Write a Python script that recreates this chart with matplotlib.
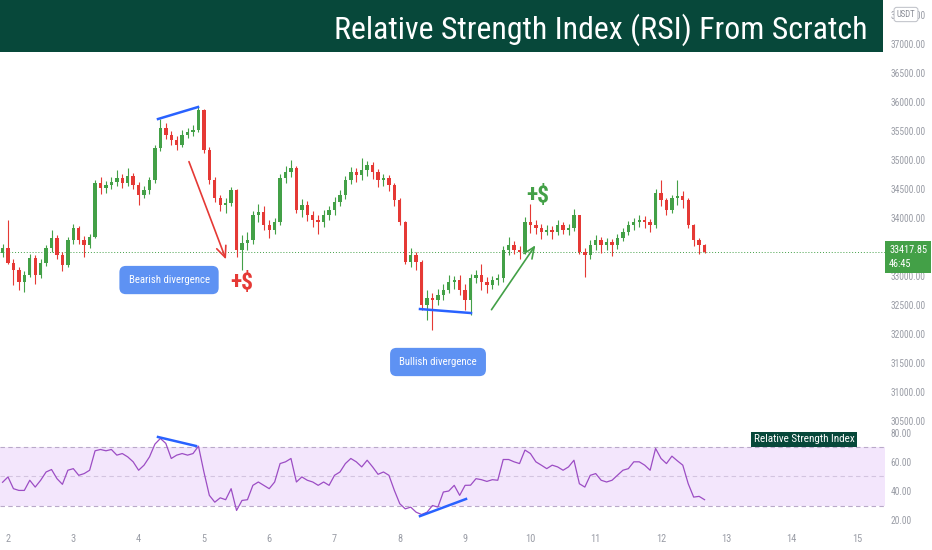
import numpy as np
import matplotlib.pyplot as plt
import matplotlib.font_manager as fm
from matplotlib.patches import Rectangle

# pick the narrowest sans family that is installed
installed = {f.name for f in fm.fontManager.ttflist}
wanted = ['Liberation Sans Narrow', 'Roboto Condensed', 'Open Sans Condensed',
          'Noto Sans Condensed', 'DejaVu Sans Condensed', 'DejaVu Sans']
families = [n for n in wanted if n in installed] or ['DejaVu Sans']
if families[-1] != 'DejaVu Sans':
    families.append('DejaVu Sans')
plt.rcParams['font.family'] = families
plt.rcParams['font.stretch'] = 'condensed'

# 2-hour candles, BTC/USDT, days of month on x
start_day = 1.9167
step = 1 / 12

closes = [33480, 33230, 33100, 32900, 33020, 33310, 33020, 33220, 33480, 33650,
          33360, 33190, 33620, 33830, 33620, 33530, 33670, 34600, 34520, 34570,
          34620, 34690, 34600, 34720, 34570, 34400, 34480, 34650, 35200, 35550,
          35430, 35340, 35260, 35430, 35480, 35520, 35860, 35170, 34650, 34340,
          34220, 34260, 34480, 33450, 33570, 33620, 34050, 34100, 33880, 33790,
          33930, 34690, 34790, 34860, 34140, 34220, 34050, 33970, 33930, 34050,
          34140, 34280, 34400, 34660, 34790, 34740, 34830, 34910, 34790, 34660,
          34690, 34570, 34310, 33930, 33240, 33360, 33240, 32500, 32620, 32590,
          32670, 32760, 32900, 32930, 32760, 32590, 32970, 33020, 32900, 32850,
          32930, 32970, 33450, 33530, 33450, 33410, 33930, 33880, 33830, 33760,
          33790, 33760, 33880, 33790, 33830, 34050, 33410, 33360, 33530, 33620,
          33530, 33590, 33530, 33650, 33760, 33880, 33930, 33970, 33930, 33880,
          34430, 34310, 34140, 34340, 34380, 34310, 33880, 33620, 33530, 33417.85]

highs = [33560, 33960, 33300, 33150, 33080, 33380, 33360, 33290, 33540, 33790,
         33700, 33420, 33680, 33900, 33870, 33690, 33720, 34660, 34700, 34640,
         34700, 34830, 34760, 34860, 34780, 34620, 34550, 34700, 35260, 35700,
         35640, 35500, 35420, 35520, 35560, 35600, 35910, 35880, 35220, 34700,
         34400, 34350, 34540, 34500, 33700, 33760, 34120, 34250, 34200, 33960,
         34000, 34760, 34900, 35000, 34900, 34330, 34300, 34120, 34060, 34130,
         34200, 34360, 34480, 34720, 34880, 34860, 35030, 34990, 34960, 34850,
         34760, 34740, 34600, 34340, 33950, 33480, 33420, 33280, 32760, 32700,
         32780, 32860, 33020, 33000, 33010, 32860, 33040, 33100, 33200, 32980,
         33000, 33040, 33520, 33680, 33600, 33520, 34020, 34240, 33960, 33900,
         33880, 33860, 33960, 33940, 33900, 34150, 34060, 33480, 33620, 33700,
         33680, 33660, 33640, 33720, 33830, 33950, 34000, 34060, 34030, 33990,
         34500, 34660, 34350, 34400, 34650, 34460, 34340, 33900, 33650, 33560]

lows = [33330, 33200, 32850, 32760, 32720, 32980, 32860, 32960, 33180, 33420,
        33300, 33080, 33150, 33560, 33560, 33330, 33480, 33650, 34420, 34440,
        34500, 34560, 34520, 34560, 34500, 34220, 34350, 34420, 34600, 35150,
        35360, 35260, 35170, 35220, 35380, 35420, 35480, 35120, 34580, 34280,
        34120, 34080, 34200, 33320, 33100, 33450, 33550, 33940, 33800, 33650,
        33720, 33880, 34600, 34700, 34080, 34020, 33950, 33850, 33720, 33850,
        33960, 34050, 34200, 34320, 34580, 34620, 34650, 34720, 34680, 34540,
        34560, 34460, 34200, 33880, 33200, 33150, 33100, 32420, 32250, 32070,
        32500, 32580, 32700, 32780, 32680, 32420, 32330, 32880, 32760, 32700,
        32780, 32850, 32900, 33360, 33380, 33300, 33380, 33750, 33720, 33640,
        33700, 33640, 33700, 33720, 33700, 33780, 33380, 32980, 33300, 33450,
        33400, 33450, 33350, 33460, 33600, 33700, 33800, 33850, 33820, 33760,
        33820, 34200, 34050, 34080, 34220, 34180, 33820, 33520, 33380, 33390]

first_open = 33400

rsi = [46.0, 49.7, 41.6, 40.4, 40.4, 47.4, 42.7, 47.4, 53.1, 54.8,
       48.5, 44.6, 54.3, 55.4, 50.8, 52.0, 54.3, 67.7, 68.6, 67.7,
       68.6, 64.7, 65.8, 63.5, 60.1, 54.3, 57.8, 63.5, 72.3, 76.2,
       72.8, 62.4, 64.7, 65.8, 64.7, 65.8, 70.9, 53.1, 37.0, 32.3,
       35.3, 34.0, 41.6, 26.6, 33.5, 34.0, 43.9, 46.2, 43.9, 41.6,
       46.2, 58.9, 60.1, 62.4, 46.2, 49.7, 47.4, 46.2, 43.9, 46.2,
       43.9, 50.8, 53.1, 58.9, 62.4, 60.1, 56.6, 61.2, 56.6, 51.5,
       53.1, 50.8, 40.4, 31.2, 27.7, 28.9, 25.4, 23.8, 25.4, 30.0,
       28.9, 39.3, 40.0, 43.9, 37.0, 43.9, 44.0, 48.5, 47.8, 46.6,
       47.8, 47.4, 61.7, 61.7, 60.1, 58.9, 68.2, 65.8, 60.1, 57.8,
       55.4, 57.8, 56.6, 54.3, 56.6, 61.2, 45.0, 42.7, 50.8, 52.0,
       47.4, 46.2, 47.4, 50.8, 54.3, 55.4, 60.1, 60.1, 57.8, 54.3,
       69.3, 62.4, 58.9, 64.0, 60.8, 57.8, 45.0, 35.8, 36.3, 34.0]

price_ticks = np.arange(30500, 38000, 500)
rsi_ticks = [20, 40, 60, 80]
day_ticks = list(range(2, 16))
last_price = closes[-1]
countdown = '46:45'

title = 'Relative Strength Index (RSI) From Scratch'

GREEN = '#43a047'
RED = '#e53935'
BLUE = '#2962ff'
TICK = '#9a9da6'
DARK = '#07483a'
BOX = '#5e92f3'

closes = np.array(closes, dtype=float)
opens = np.concatenate([[first_open], closes[:-1]])
days = start_day + step * np.arange(len(closes))
up = closes >= opens
colors = np.where(up, GREEN, RED)

fig = plt.figure(figsize=(9.32, 5.5), dpi=100)
renderer = fig.canvas.get_renderer()


def fit_size(txt, width_px, max_size, **kw):
    # font size that makes txt about width_px wide, never above max_size
    t = fig.text(0, 0, txt, fontsize=10, **kw)
    w = t.get_window_extent(renderer).width
    t.remove()
    return min(max_size, 10 * width_px / w)


tick_fs = fit_size('37000.00', 35, 7.5)
title_fs = fit_size(title, 531, 28)
box_fs = fit_size('Bearish divergence', 80, 8.5)
rsi_lab_fs = fit_size('Relative Strength Index', 100, 9)
tag_fs = fit_size('33417.85', 38, 8)
badge_fs = fit_size('USDT', 19, 7)
sign_fs = 17

ax = fig.add_axes([0, 1 - 428 / 550, 885 / 932, 428 / 550])
ax2 = fig.add_axes([0, 23 / 550, 885 / 932, 99 / 550], sharex=ax)

# candles
ax.vlines(days, lows, highs, colors=colors, lw=0.8, zorder=2)
body = np.abs(closes - opens)
body = np.maximum(body, 12)
ax.bar(days, body, bottom=np.minimum(opens, closes), width=step * 0.62,
       color=colors, linewidth=0, zorder=3)

ax.axhline(last_price, color=GREEN, ls=(0, (1, 2)), lw=0.7, zorder=1)

ax.set_xlim(1.8775, 15.43)
ax.set_ylim(30380, 37759)
ax.yaxis.tick_right()
ax.set_yticks(price_ticks)
ax.set_yticklabels(['%.2f' % p for p in price_ticks])
ax.tick_params(axis='y', length=0, pad=4, labelsize=tick_fs, colors=TICK)
ax.tick_params(axis='x', bottom=False, labelbottom=False)
for s in ax.spines.values():
    s.set_visible(False)

# divergence annotations on price
ax.plot([4.297, 4.910], [35707, 35914], color=BLUE, lw=1.8, zorder=4)
ax.plot([8.309, 9.090], [32431, 32362], color=BLUE, lw=1.8, zorder=4)
ax.annotate('', xy=(5.353, 33242), xytext=(4.756, 35017),
            arrowprops=dict(arrowstyle='->,head_length=0.8,head_width=0.35',
                            color=RED, lw=1.2))
ax.annotate('', xy=(10.10, 33569), xytext=(9.38, 32380),
            arrowprops=dict(arrowstyle='->,head_length=0.8,head_width=0.35',
                            color=GREEN, lw=1.2))
ax.text(5.58, 32880, '+$', color=RED, fontsize=sign_fs, fontweight='bold',
        ha='center', va='center')
ax.text(10.116, 34397, '+$', color=GREEN, fontsize=sign_fs, fontweight='bold',
        ha='center', va='center')
ax.text(4.466, 32931, 'Bearish divergence', color='white', fontsize=box_fs,
        ha='center', va='center',
        bbox=dict(boxstyle='round,pad=0.85,rounding_size=0.6', fc=BOX, ec='none'))
ax.text(8.585, 31518, 'Bullish divergence', color='white', fontsize=box_fs,
        ha='center', va='center',
        bbox=dict(boxstyle='round,pad=0.85,rounding_size=0.6', fc=BOX, ec='none'))

# last price tag
ax.annotate('%.2f\n%s' % (last_price, countdown), xy=(1.0, last_price),
            xycoords=ax.get_yaxis_transform(), xytext=(3, 5),
            textcoords='offset points', ha='left', va='top', color='white',
            fontsize=tag_fs, linespacing=1.5, annotation_clip=False, zorder=6,
            bbox=dict(boxstyle='square,pad=0.4', fc=GREEN, ec='none'))

# RSI panel
ax2.axhspan(30, 70, color='#f3e6fc', lw=0, zorder=0)
for lvl, a in [(70, 1.0), (50, 0.55), (30, 1.0)]:
    ax2.axhline(lvl, color='#b9a9c9', ls=(0, (4, 3)), lw=0.8, alpha=a, zorder=1)
ax2.plot(days, rsi, color='#9c4dc4', lw=0.9, zorder=3)
ax2.plot([4.297, 4.879], [77.2, 71.0], color=BLUE, lw=1.8, zorder=4)
ax2.plot([8.309, 9.014], [22.7, 34.5], color=BLUE, lw=1.8, zorder=4)
ax2.text(14.19, 75.6, 'Relative Strength Index', color='white', fontsize=rsi_lab_fs,
         ha='center', va='center',
         bbox=dict(boxstyle='square,pad=0.2', fc=DARK, ec='none'))

ax2.set_ylim(15.2, 83.4)
ax2.yaxis.tick_right()
ax2.set_yticks(rsi_ticks)
ax2.set_yticklabels(['%.2f' % r for r in rsi_ticks])
ax2.set_xticks(day_ticks)
ax2.set_xticklabels([str(d) for d in day_ticks])
ax2.tick_params(axis='y', length=0, pad=4, labelsize=tick_fs, colors=TICK)
ax2.tick_params(axis='x', length=0, pad=5, labelsize=7.5, colors=TICK)
for s in ax2.spines.values():
    s.set_visible(False)
ax2.patch.set_alpha(0)

# header banner
fig.patches.append(Rectangle((0, 1 - 52 / 550), 883 / 932, 52 / 550,
                             transform=fig.transFigure, fc=DARK, ec='none'))
fig.text(868 / 932, 1 - 30 / 550, title, color='white', fontsize=title_fs,
         ha='right', va='center')
fig.text(906 / 932, 1 - 14.5 / 550, 'USDT', color='#8a8d96', fontsize=badge_fs,
         ha='center', va='center',
         bbox=dict(boxstyle='round,pad=0.3', fc='white', ec='#c4c6cc', lw=0.8))

fig.savefig('out.png', dpi=100)
